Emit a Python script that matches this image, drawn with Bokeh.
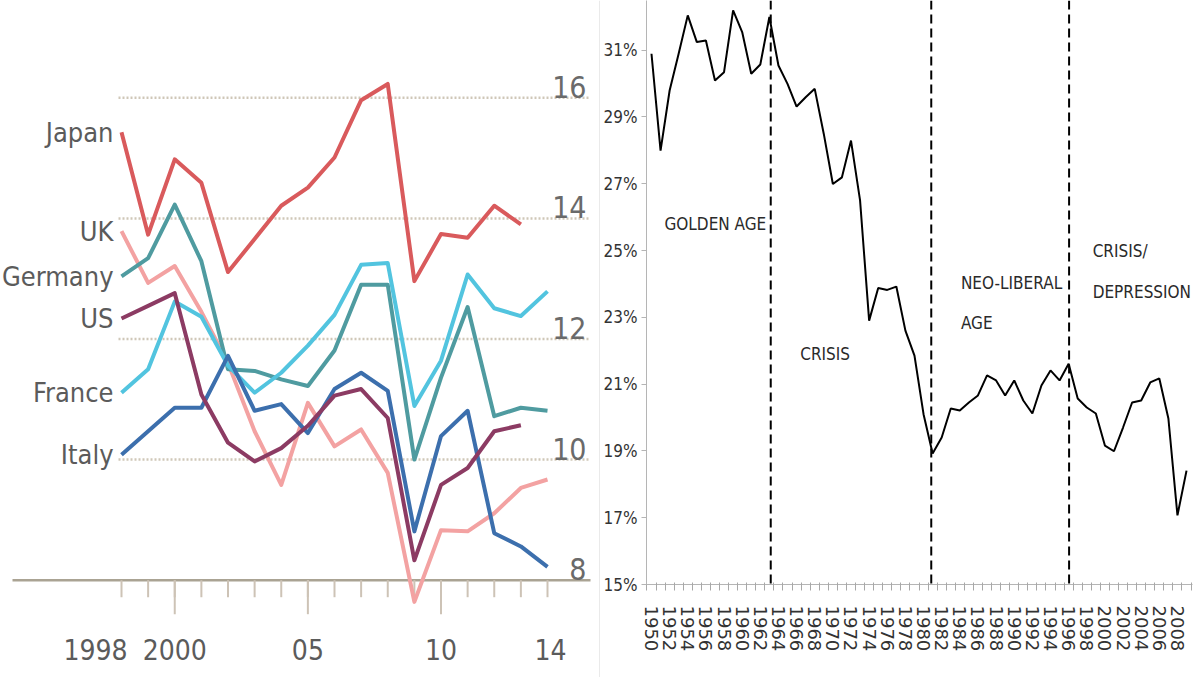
import math
from bokeh.plotting import figure
from bokeh.layouts import row
from bokeh.models import Range1d, Span, FixedTicker, PrintfTickFormatter
from bokeh.core.properties import value
from bokeh.embed import file_html
from bokeh.resources import INLINE

# ---------------- data: left chart ----------------
years_l = list(range(1998, 2015))
countries = ["Japan", "UK", "Germany", "US", "France", "Italy"]
japan = [15.43, 13.73, 14.98, 14.59, 13.11, 13.66, 14.21, 14.51, 15.01, 15.96, 16.23, 12.96, 13.74, 13.68, 14.21, 13.90]
uk = [13.79, 12.93, 13.21, 12.45, 11.60, 10.47, 9.58, 10.94, 10.22, 10.50, 9.78, 7.64, 8.83, 8.81, 9.11, 9.53, 9.67]
germany = [13.04, 13.34, 14.23, 13.29, 11.50, 11.47, 11.33, 11.22, 11.81, 12.90, 12.90, 10.00, 11.36, 12.53, 10.72, 10.86, 10.81]
us = [12.34, 12.55, 12.76, 11.08, 10.28, 9.97, 10.19, 10.56, 11.06, 11.17, 10.69, 8.33, 9.58, 9.86, 10.47, 10.57]
france = [11.11, 11.50, 12.62, 12.37, 11.56, 11.11, 11.44, 11.89, 12.40, 13.23, 13.26, 10.89, 11.64, 13.07, 12.51, 12.38, 12.79]
italy = [10.08, 10.47, 10.86, 10.86, 11.72, 10.81, 10.92, 10.44, 11.17, 11.44, 11.14, 8.81, 10.39, 10.81, 8.78, 8.56, 8.22]
gridvals_l = [16, 14, 12, 10]
base_l = 8
ylabels_l = ["16", "14", "12", "10", "8"]
ylabel_vals_l = [16, 14, 12, 10, 8]
major_years_l = [2000, 2005, 2010]
xlabel_years_l = [1998, 2000, 2005, 2010, 2014]
xlabels_l = ["1998", "2000", "05", "10", "14"]

# ---------------- data: right chart ----------------
years_r = list(range(1950, 2010))
share = [30.89, 27.99, 29.79, 30.90, 32.04, 31.24, 31.29, 30.09, 30.34, 32.19,
         31.54, 30.29, 30.57, 31.99, 30.54, 29.99, 29.31, 29.59, 29.84, 28.49,
         26.99, 27.19, 28.29, 26.50, 22.90, 23.88, 23.82, 23.92, 22.60, 21.85,
         20.10, 18.92, 19.40, 20.27, 20.21, 20.45, 20.66, 21.26, 21.11, 20.66,
         21.11, 20.51, 20.12, 20.96, 21.41, 21.11, 21.61, 20.57, 20.30, 20.12,
         19.16, 18.99, 19.70, 20.45, 20.51, 21.05, 21.17, 19.97, 17.07, 18.41]
period_breaks = [1963.15, 1980.85, 1996.05]
yticks_r = [15, 17, 19, 21, 23, 25, 27, 29, 31]
period_lines = ["GOLDEN AGE", "CRISIS", "NEO-LIBERAL", "AGE", "CRISIS/", "DEPRESSION"]

FONT = "'DejaVu Sans Condensed', Roboto, sans-serif"

# ================= LEFT FIGURE =================
WL, H = 600, 677
PXY_L = 26.625      # px per year
PXV_L = 60.3        # px per unit
X0L = 1998 - 121 / PXY_L
X1L = X0L + WL / PXY_L
Y1L = 16 + 97.3 / PXV_L
Y0L = Y1L - H / PXV_L

def lx(sx):
    return X0L + sx / PXY_L

def ly(sy):
    return Y1L - sy / PXV_L

p1 = figure(width=WL, height=H, x_range=Range1d(X0L, X1L), y_range=Range1d(Y0L, Y1L),
            output_backend="svg", toolbar_location=None,
            x_axis_type=None, y_axis_type=None, min_border=0)
p1.frame_align = False
p1.outline_line_color = None
p1.xgrid.visible = False
p1.ygrid.visible = False

# dotted gridlines
p1.segment(x0=[lx(118)] * len(gridvals_l), x1=[lx(590)] * len(gridvals_l),
           y0=gridvals_l, y1=gridvals_l, line_color="#cfc7b8", line_width=2.5, line_dash="2 2")
# baseline
p1.segment(x0=[lx(12)], x1=[lx(590)], y0=[base_l], y1=[base_l], line_color="#aaa393", line_width=2.5)
# ticks
p1.segment(x0=years_l, x1=years_l, y0=[base_l] * len(years_l),
           y1=[base_l - 17 / PXV_L] * len(years_l), line_color="#cdc3b6", line_width=2)
p1.segment(x0=major_years_l, x1=major_years_l, y0=[base_l] * len(major_years_l),
           y1=[base_l - 34 / PXV_L] * len(major_years_l), line_color="#cdc3b6", line_width=2)

series = [("UK", uk, "#f3a2a2"), ("Germany", germany, "#4f9ba0"),
          ("France", france, "#52c4df"), ("Italy", italy, "#3c6fad"),
          ("US", us, "#8c3b63"), ("Japan", japan, "#d95a5c")]
for name, vals, col in series:
    p1.line(years_l[:len(vals)], vals, line_color=col, line_width=4, line_join="round")

# country labels at first value
first_vals = {"Japan": japan[0], "UK": uk[0], "Germany": germany[0],
              "US": us[0], "France": france[0], "Italy": italy[0]}
p1.text(x=[lx(113)] * len(countries), y=[first_vals[c] for c in countries], text=countries,
        text_align="right", text_baseline="middle", text_font=value(FONT),
        text_font_size="27px", text_color="#5b5b5b")

# value labels
p1.text(x=[lx(586)] * len(ylabels_l), y=ylabel_vals_l, text=ylabels_l,
        text_align="right", text_baseline="alphabetic", y_offset=-11,
        text_font=value(FONT), text_font_size="30px", text_color="#6a6a6a")

# year labels
xoffs = [-26, 0, 0, 0, 3]
p1.text(x=xlabel_years_l, y=[ly(649)] * len(xlabels_l), text=xlabels_l, x_offset=xoffs,
        text_align="center", text_baseline="middle", text_font=value(FONT),
        text_font_size="28px", text_color="#5b5b5b")

# separator line at the right edge of the left panel
p1.add_layout(Span(location=lx(599.5), dimension="height", line_color="#d4d4d4", line_width=1))

# ================= RIGHT FIGURE =================
WR = 600
PXY_R = 9.085
PXV_R = 33.4
FL = 645   # frame left (screen)
X0R = 1950 - (650 - FL) / PXY_R
X1R = 1950 + (1192 - 650) / PXY_R
Y0R = 15
Y1R = 15 + 584 / PXV_R

def rx(sx):
    return 1950 + (sx - 650) / PXY_R

def ry(sy):
    return 15 + (584 - sy) / PXV_R

p2 = figure(width=WR, height=H, x_range=Range1d(X0R, X1R), y_range=Range1d(Y0R, Y1R),
            output_backend="svg", toolbar_location=None,
            min_border_left=FL - 600, min_border_right=8, min_border_top=0, min_border_bottom=H - 584)
p2.frame_align = False
p2.outline_line_color = None
p2.xgrid.visible = False
p2.ygrid.visible = False

p2.xaxis.ticker = FixedTicker(ticks=list(range(1950, 2010, 2)),
                              minor_ticks=[y - 0.5 for y in range(1950, 2011)])
p2.xaxis.major_tick_line_color = None
p2.xaxis.minor_tick_line_color = "#a8a8a8"
p2.xaxis.minor_tick_out = 6
p2.xaxis.minor_tick_in = 2
p2.xaxis.axis_line_color = "#b5b5b5"
p2.xaxis.major_label_orientation = -math.pi / 2
p2.xaxis.major_label_standoff = 15
p2.xaxis.major_label_text_font = "DejaVu Sans"
p2.xaxis.major_label_text_font_size = "18px"
p2.xaxis.major_label_text_color = "#333333"

p2.yaxis.ticker = FixedTicker(ticks=yticks_r, minor_ticks=[])
p2.yaxis.formatter = PrintfTickFormatter(format="%d%%")
p2.yaxis.axis_line_color = "#b5b5b5"
p2.yaxis.major_tick_line_color = "#b5b5b5"
p2.yaxis.major_tick_out = 5
p2.yaxis.major_tick_in = 0
p2.yaxis.major_label_standoff = 4
p2.yaxis.major_label_text_font = FONT
p2.yaxis.major_label_text_font_size = "17px"
p2.yaxis.major_label_text_color = "#333333"

for b in period_breaks:
    p2.add_layout(Span(location=b, dimension="height", line_color="black",
                       line_width=2, line_dash="9 5"))

p2.line(years_r, share, line_color="black", line_width=2)

lab_x = [rx(663), rx(799), rx(960), rx(960), rx(1092), rx(1092)]
lab_y = [ry(223), ry(353), ry(282), ry(322), ry(250), ry(291)]
p2.text(x=lab_x, y=lab_y, text=period_lines, text_align="left", text_baseline="middle",
        text_font=value(FONT), text_font_size="17px", text_color="#2a2a2a")

layout = row(p1, p2, spacing=0)
open("out.html", "w").write(file_html(layout, INLINE))
